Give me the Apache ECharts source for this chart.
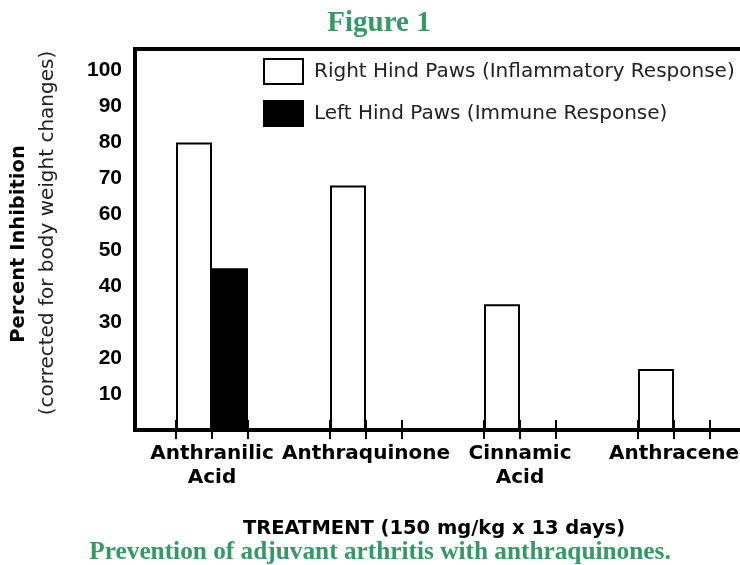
<!DOCTYPE html>
<html>
<head>
<meta charset="utf-8">
<script src="https://cdn.jsdelivr.net/npm/echarts@6/dist/echarts.min.js"></script>
<style>
  html, body { margin: 0; padding: 0; background: #fff; }
  #main { width: 740px; height: 565px; }
</style>
</head>
<body>
<div id="main"></div>
<script>
// data
const categories = ['Anthranilic\nAcid', 'Anthraquinone', 'Cinnamic\nAcid', 'Anthracene'];
const rightHind = [80, 68, 35, 17];      // Inflammatory response
const leftHind = [45, null, null, null]; // Immune response
const yMax = 106;

const green = '#339966';
const barW = 36;

const chart = echarts.init(document.getElementById('main'));

const option = {
  animation: false,
  backgroundColor: '#fff',
  grid: {
    // the plot runs past the right edge of the page, as in the scan
    left: 135, top: 49, bottom: 135, width: 616,
    outerBoundsMode: 'none',
    show: true, borderColor: '#000', borderWidth: 4, backgroundColor: 'transparent'
  },
  legend: {
    orient: 'vertical',
    left: 263, top: 58,
    padding: 0,
    itemWidth: 39, itemHeight: 25, itemGap: 15,
    icon: 'rect',
    data: ['Right Hind Paws (Inflammatory Response)', 'Left Hind Paws (Immune Response)'],
    textStyle: { fontFamily: 'DejaVu Sans', fontSize: 20, color: '#222', padding: [0, 0, 0, 6] }
  },
  xAxis: {
    type: 'category',
    data: categories,
    axisLine: { lineStyle: { color: '#000', width: 4 } },
    axisTick: { show: false },
    axisLabel: {
      interval: 0,
      margin: 12,
      fontFamily: 'DejaVu Sans', fontWeight: 'bold', fontSize: 20, lineHeight: 24, color: '#000'
    }
  },
  yAxis: {
    type: 'value',
    min: 0, max: yMax, interval: 10,
    splitLine: { show: false },
    axisTick: { show: false },
    axisLine: { show: true, lineStyle: { color: '#000', width: 4 } },
    axisLabel: {
      margin: 13,
      fontFamily: 'Liberation Sans', fontWeight: 'bold', fontSize: 21, color: '#000',
      formatter: v => (v > 0 && v % 10 === 0) ? String(v) : ''
    }
  },
  series: [
    {
      name: 'Right Hind Paws (Inflammatory Response)',
      type: 'bar',
      data: rightHind,
      barWidth: barW,
      barGap: '0%',
      itemStyle: { color: '#fff', borderColor: '#000', borderWidth: 2 }
    },
    {
      name: 'Left Hind Paws (Immune Response)',
      type: 'bar',
      data: leftHind,
      barWidth: barW,
      itemStyle: { color: '#000', borderColor: '#000', borderWidth: 2 }
    },
    {
      // tick marks at the bar edges of each group
      type: 'custom',
      silent: true,
      data: categories.map((c, i) => [i, 0]),
      encode: { x: 0, y: 1 },
      renderItem: (params, api) => {
        const p = api.coord([api.value(0), 0]);
        const children = [-barW, 0, barW].map(dx => ({
          type: 'line',
          shape: { x1: p[0] + dx, y1: p[1] - 10, x2: p[0] + dx, y2: p[1] + 9 },
          style: { stroke: '#000', lineWidth: 2 }
        }));
        return { type: 'group', children };
      },
      z: 5
    }
  ],
  graphic: [
    {
      type: 'text', x: 379, y: 24,
      style: { text: 'Figure 1', font: 'bold 29px "Liberation Serif"', fill: green, textAlign: 'center', textVerticalAlign: 'middle' }
    },
    {
      type: 'text', x: 19, y: 244, rotation: Math.PI / 2,
      style: { text: 'Percent Inhibition', font: 'bold 19.5px "DejaVu Sans"', fill: '#000', textAlign: 'center', textVerticalAlign: 'middle' }
    },
    {
      type: 'text', x: 48, y: 233, rotation: Math.PI / 2,
      style: { text: '(corrected for body weight changes)', font: '20px "DejaVu Sans"', fill: '#222', textAlign: 'center', textVerticalAlign: 'middle' }
    },
    {
      type: 'text', x: 434, y: 529,
      style: { text: 'TREATMENT (150 mg/kg x 13 days)', font: 'bold 19.5px "DejaVu Sans"', fill: '#000', textAlign: 'center', textVerticalAlign: 'middle' }
    },
    {
      type: 'text', x: 380, y: 552,
      style: { text: 'Prevention of adjuvant arthritis with anthraquinones.', font: 'bold 25.3px "Liberation Serif"', fill: green, textAlign: 'center', textVerticalAlign: 'middle' }
    }
  ]
};

chart.setOption(option);
</script>
</body>
</html>
